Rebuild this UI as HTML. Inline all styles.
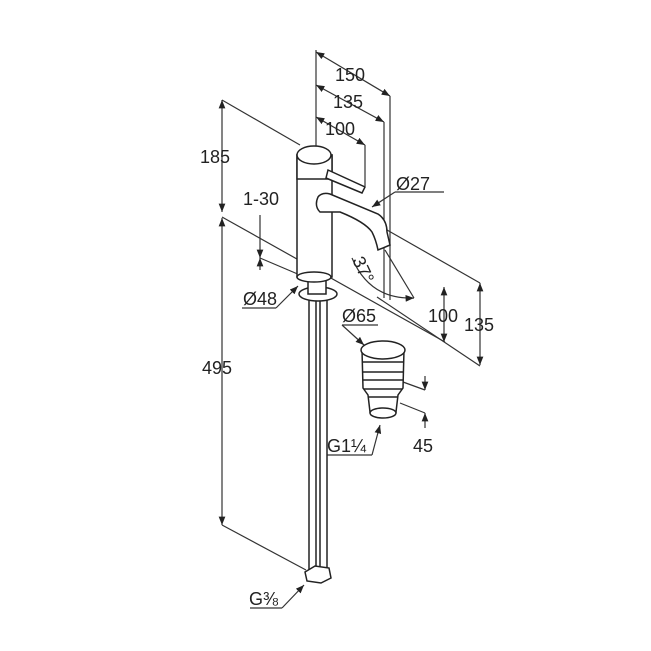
<!DOCTYPE html>
<html><head><style>html,body{margin:0;padding:0;background:#fff}svg{display:block}text{font-family:"Liberation Sans",sans-serif;font-size:18px;fill:#222}</style></head>
<body>
<svg width="651" height="651" viewBox="0 0 651 651" xmlns="http://www.w3.org/2000/svg">
<defs><marker id="a" viewBox="0 0 10 10" refX="10" refY="5" markerWidth="7" markerHeight="7" orient="auto-start-reverse"><path d="M0,1 L10,5 L0,9z" fill="#222"/></marker></defs>
<g stroke="#333" stroke-width="1.2" fill="none">
<line x1="316" y1="50" x2="316" y2="150"/>
<line x1="316" y1="52" x2="390" y2="96" marker-start="url(#a)" marker-end="url(#a)"/>
<line x1="390" y1="96" x2="390" y2="300"/>
<line x1="316" y1="85" x2="384" y2="122" marker-start="url(#a)" marker-end="url(#a)"/>
<line x1="384" y1="122" x2="384" y2="298"/>
<line x1="316" y1="117" x2="365" y2="145" marker-start="url(#a)" marker-end="url(#a)"/>
<line x1="365" y1="145" x2="365" y2="186"/>
<line x1="222" y1="100" x2="300" y2="145"/>
<line x1="222" y1="100" x2="222" y2="212" marker-start="url(#a)" marker-end="url(#a)"/>
<line x1="222" y1="218" x2="222" y2="525" marker-start="url(#a)" marker-end="url(#a)"/>
<line x1="222" y1="217" x2="445" y2="342"/>
<line x1="260" y1="215" x2="260" y2="258" marker-end="url(#a)"/>
<line x1="260" y1="270" x2="260" y2="258" marker-end="url(#a)"/>
<line x1="260" y1="258" x2="300" y2="275"/>
<line x1="377" y1="297" x2="480" y2="366"/>
<line x1="222" y1="525" x2="306" y2="570"/>
<line x1="387" y1="230" x2="480" y2="283"/>
<line x1="444" y1="287" x2="444" y2="342" marker-start="url(#a)" marker-end="url(#a)"/>
<line x1="480" y1="283" x2="480" y2="365" marker-start="url(#a)" marker-end="url(#a)"/>
<line x1="395" y1="192" x2="444" y2="192"/><line x1="395" y1="192" x2="372" y2="207" marker-end="url(#a)"/>
<line x1="242" y1="308" x2="276" y2="308"/><line x1="276" y1="308" x2="298" y2="286" marker-end="url(#a)"/>
<line x1="342" y1="325" x2="378" y2="325"/><line x1="342" y1="325" x2="364" y2="345" marker-end="url(#a)"/>
<line x1="326" y1="455" x2="372" y2="455"/><line x1="372" y1="455" x2="380" y2="425" marker-end="url(#a)"/>
<line x1="250" y1="608" x2="282" y2="608"/><line x1="282" y1="608" x2="304" y2="585" marker-end="url(#a)"/>
<path d="M352,258 Q370,300 414,298" marker-end="url(#a)"/>
<line x1="385" y1="250" x2="414" y2="298"/>
<line x1="425" y1="376" x2="425" y2="390" marker-end="url(#a)"/>
<line x1="425" y1="428" x2="425" y2="413" marker-end="url(#a)"/>
<line x1="403" y1="382" x2="425" y2="390"/><line x1="400" y1="403" x2="425" y2="413"/>
</g>
<g stroke="#222" stroke-width="1.5" fill="#fff">
<rect x="309" y="300" width="7" height="270"/><rect x="320" y="300" width="7" height="270"/>
<path d="M305,572 l10,-6 l14,2 l2,10 l-10,5 l-14,-2z"/>
<ellipse cx="318" cy="294" rx="19" ry="7"/>
<rect x="308" y="278" width="18" height="16"/>
<rect x="297" y="155" width="35" height="122"/>
<ellipse cx="314" cy="277" rx="17" ry="5"/>
<rect x="297" y="155" width="35" height="24"/>
<ellipse cx="314" cy="155" rx="17" ry="9"/>
<path d="M328,170 L365,187 L362,193 L326,178z"/>
<path d="M318,197 Q322,192 330,194 L378,214 Q387,220 387,232 L390,245 L378,250 Q376,240 372,232 Q365,222 340,212 L320,212 Q314,206 318,197z"/>
<path d="M362,350 L363,388 L368,395 L370,412 L396,412 L398,395 L403,388 L404,350z"/>
<ellipse cx="383" cy="350" rx="22" ry="9"/>
<line x1="363" y1="362" x2="403" y2="362"/><line x1="363" y1="372" x2="403" y2="372"/>
<line x1="363" y1="380" x2="403" y2="380"/><line x1="364" y1="389" x2="402" y2="389"/>
<line x1="368" y1="397" x2="398" y2="397"/>
<ellipse cx="383" cy="413" rx="13" ry="5"/>
</g>
<text x="335" y="81">150</text>
<text x="333" y="108">135</text>
<text x="325" y="135">100</text>
<text x="200" y="163">185</text>
<text x="243" y="205">1-30</text>
<text x="396" y="190">Ø27</text>
<text x="0" y="0" transform="translate(352,260) rotate(65)">37°</text>
<text x="243" y="305">Ø48</text>
<text x="342" y="322">Ø65</text>
<text x="428" y="322">100</text>
<text x="464" y="331">135</text>
<text x="202" y="374">495</text>
<text x="327" y="452">G1¼</text>
<text x="413" y="452">45</text>
<text x="249" y="605">G⅜</text>
</svg>
</body></html>
